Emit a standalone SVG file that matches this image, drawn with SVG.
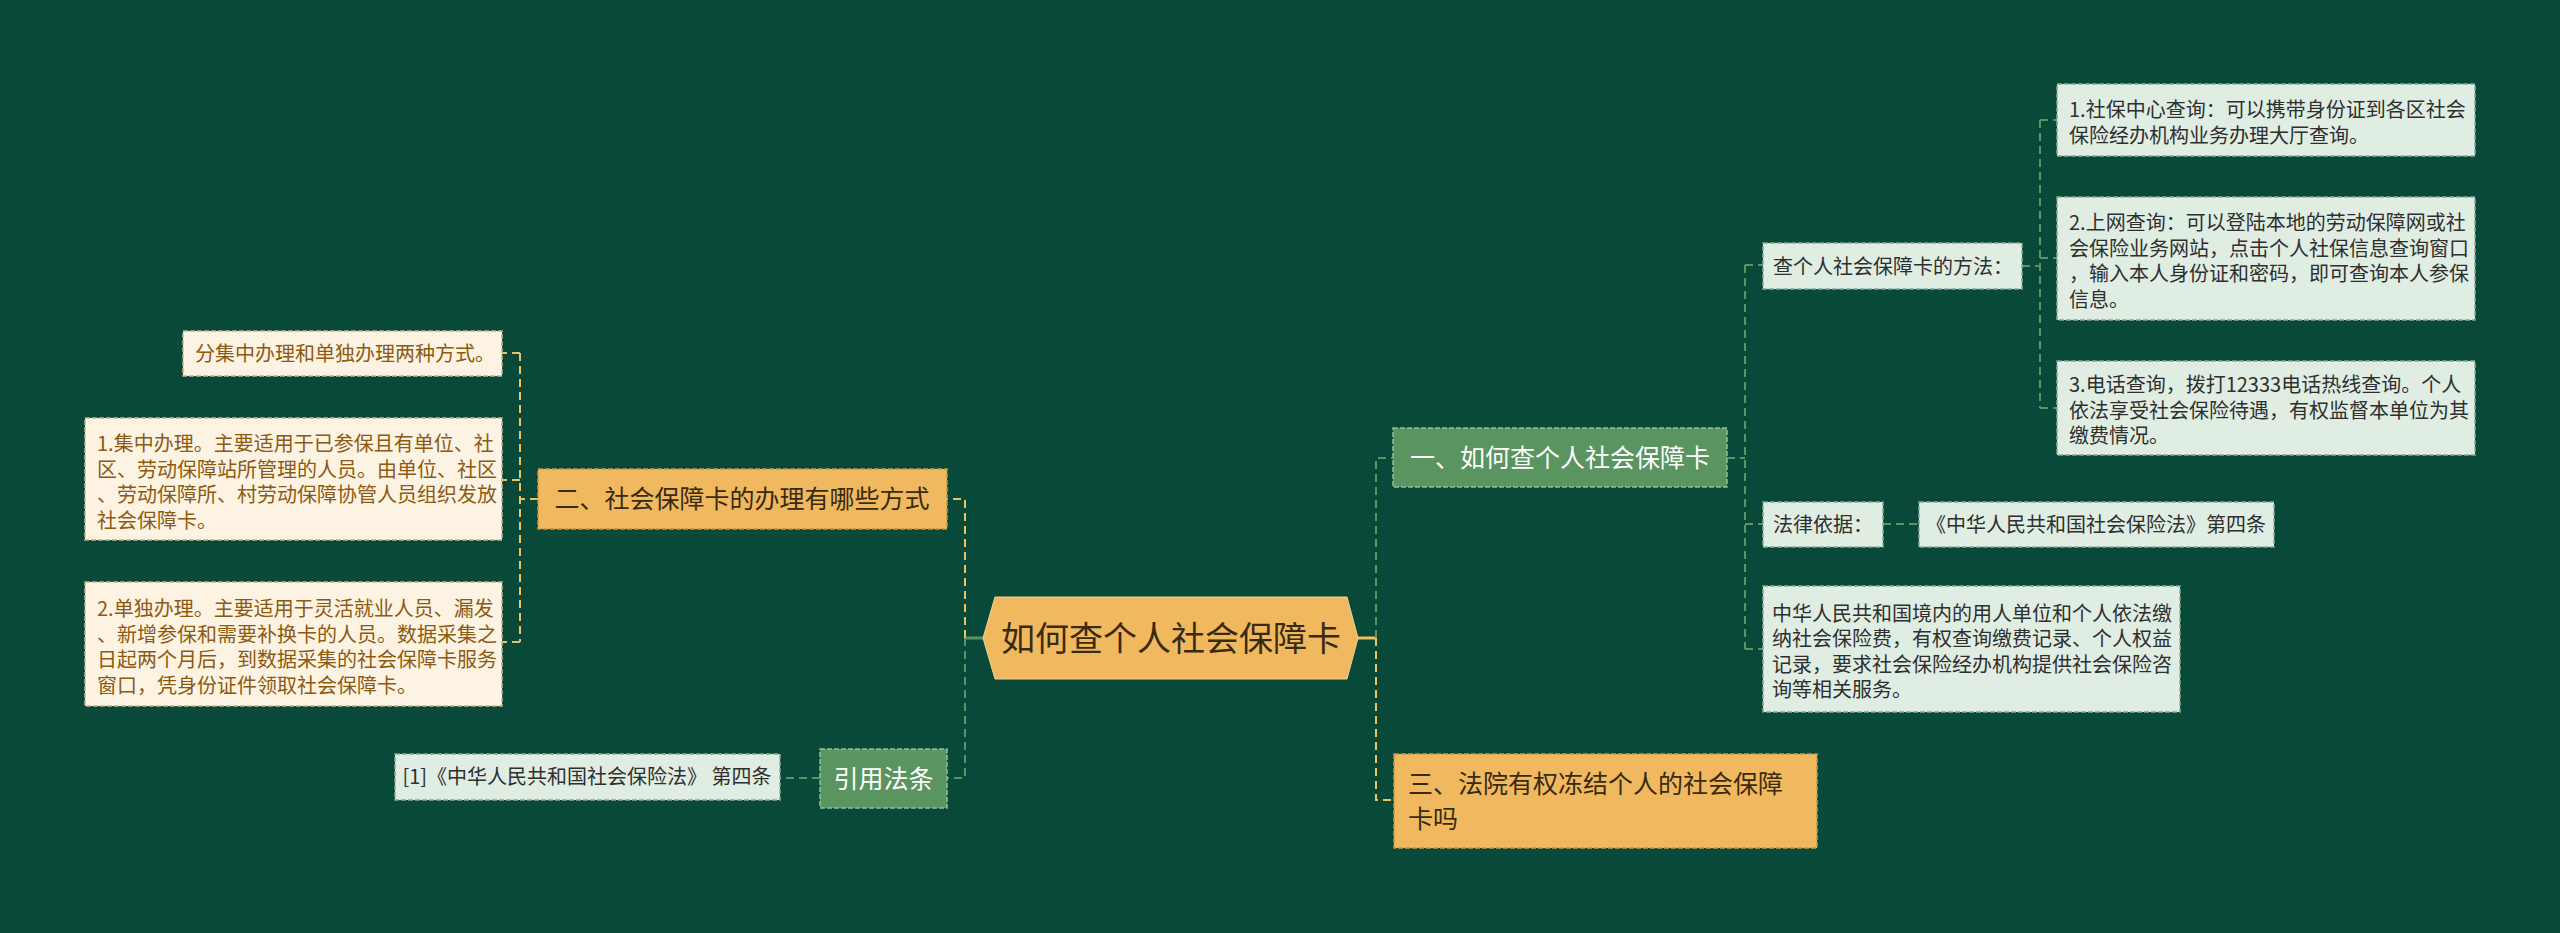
<svg xmlns="http://www.w3.org/2000/svg" width="2560" height="933" viewBox="0 0 2560 933">
<style>
text { font-family: "Noto Sans CJK SC", "Noto Sans", sans-serif; }
.s { font-size: 20px; }
.m { font-size: 25px; }
.dk { fill: #2f2f2f; }
.br { fill: #8c5a12; }
.wh { fill: #ffffff; }
.yt { fill: #3a2a10; }
.mint { fill: #dfede2; stroke: #8aa996; stroke-width: 1.5; stroke-dasharray: 5 2; }
.cream { fill: #fdf3e2; stroke: #c4b28c; stroke-width: 1.5; stroke-dasharray: 5 2; }
.yel { fill: #f0b95f; stroke: #c9963f; stroke-width: 1.5; stroke-dasharray: 5 2; }
.grn { fill: #5a9460; stroke: #8fc095; stroke-width: 1.5; stroke-dasharray: 5 2; }
.cg { fill: none; stroke: #5a9460; stroke-width: 2; stroke-dasharray: 8 5; }
.cy { fill: none; stroke: #f0c060; stroke-width: 2; stroke-dasharray: 8 5; }
.sg { fill: none; stroke: #5a9460; stroke-width: 3; }
.sy { fill: none; stroke: #f0c060; stroke-width: 3; }
</style>
<rect x="0" y="0" width="2560" height="933" fill="#08493a"/>

<g id="connectors">
  <path class="sg" d="M983,638 H965"/>
  <path class="cy" d="M965,638 V499 H947"/>
  <path class="cg" d="M965,638 V778 H947"/>
  <path class="sy" d="M1358,638 H1376"/>
  <path class="cg" d="M1376,638 V458 H1393"/>
  <path class="cy" d="M1376,638 V800 H1394"/>
  <path class="cy" d="M538,499 H520 M520,353 V642 M520,353 H502 M520,480 H502 M520,642 H502"/>
  <path class="cg" d="M820,778 H780"/>
  <path class="cg" d="M1727,458 H1745 M1745,265 V649 M1745,265 H1763 M1745,524 H1763 M1745,649 H1763"/>
  <path class="cg" d="M2022,266 H2040 M2040,120 V408 M2040,120 H2057 M2040,258 H2057 M2040,408 H2057"/>
  <path class="cg" d="M1883,524 H1919"/>
</g>

<g id="root">
  <polygon points="983,638 995,597 1347,597 1358,638 1347,679 995,679" fill="#f0b95f" stroke="#f6d38f" stroke-width="1"/>
  <text x="1171" y="651" font-size="34" text-anchor="middle" class="yt">如何查个人社会保障卡</text>
</g>

<g id="n1">
  <rect class="grn" x="1393" y="428" width="334" height="59"/>
  <text class="m wh" x="1560" y="467" text-anchor="middle">一、如何查个人社会保障卡</text>
</g>

<g id="n1a">
  <rect class="mint" x="1763" y="243" width="259" height="46"/>
  <text class="s dk" x="1773" y="274">查个人社会保障卡的方法：</text>
</g>

<g id="n1a1">
  <rect class="mint" x="2057" y="84" width="418" height="72"/>
  <text class="s dk" x="2069" y="117">1.社保中心查询：可以携带身份证到各区社会</text>
  <text class="s dk" x="2069" y="143">保险经办机构业务办理大厅查询。</text>
</g>

<g id="n1a2">
  <rect class="mint" x="2057" y="197" width="418" height="123"/>
  <text class="s dk" x="2069" y="230">2.上网查询：可以登陆本地的劳动保障网或社</text>
  <text class="s dk" x="2069" y="256">会保险业务网站，点击个人社保信息查询窗口</text>
  <text class="s dk" x="2069" y="281">，输入本人身份证和密码，即可查询本人参保</text>
  <text class="s dk" x="2069" y="307">信息。</text>
</g>

<g id="n1a3">
  <rect class="mint" x="2057" y="361" width="418" height="94"/>
  <text class="s dk" x="2069" y="392">3.电话查询，拨打12333电话热线查询。个人</text>
  <text class="s dk" x="2069" y="418">依法享受社会保险待遇，有权监督本单位为其</text>
  <text class="s dk" x="2069" y="443">缴费情况。</text>
</g>

<g id="n1b">
  <rect class="mint" x="1763" y="502" width="120" height="45"/>
  <text class="s dk" x="1773" y="532">法律依据：</text>
</g>

<g id="n1b1">
  <rect class="mint" x="1919" y="502" width="355" height="45"/>
  <text class="s dk" x="2096" y="532" text-anchor="middle">《中华人民共和国社会保险法》第四条</text>
</g>

<g id="n1c">
  <rect class="mint" x="1763" y="586" width="417" height="126"/>
  <text class="s dk" x="1772" y="621">中华人民共和国境内的用人单位和个人依法缴</text>
  <text class="s dk" x="1772" y="646">纳社会保险费，有权查询缴费记录、个人权益</text>
  <text class="s dk" x="1772" y="672">记录，要求社会保险经办机构提供社会保险咨</text>
  <text class="s dk" x="1772" y="697">询等相关服务。</text>
</g>

<g id="n3">
  <rect class="yel" x="1394" y="754" width="423" height="94"/>
  <text class="m yt" x="1408" y="793">三、法院有权冻结个人的社会保障</text>
  <text class="m yt" x="1408" y="828">卡吗</text>
</g>

<g id="n2">
  <rect class="yel" x="538" y="469" width="409" height="60"/>
  <text class="m yt" x="742" y="508" text-anchor="middle">二、社会保障卡的办理有哪些方式</text>
</g>

<g id="n2a">
  <rect class="cream" x="183" y="331" width="319" height="45"/>
  <text class="s br" x="195" y="361">分集中办理和单独办理两种方式。</text>
</g>

<g id="n2b">
  <rect class="cream" x="85" y="418" width="417" height="122"/>
  <text class="s br" x="97" y="451">1.集中办理。主要适用于已参保且有单位、社</text>
  <text class="s br" x="97" y="477">区、劳动保障站所管理的人员。由单位、社区</text>
  <text class="s br" x="97" y="502">、劳动保障所、村劳动保障协管人员组织发放</text>
  <text class="s br" x="97" y="528">社会保障卡。</text>
</g>

<g id="n2c">
  <rect class="cream" x="85" y="582" width="417" height="124"/>
  <text class="s br" x="97" y="616">2.单独办理。主要适用于灵活就业人员、漏发</text>
  <text class="s br" x="97" y="642">、新增参保和需要补换卡的人员。数据采集之</text>
  <text class="s br" x="97" y="667">日起两个月后，到数据采集的社会保障卡服务</text>
  <text class="s br" x="97" y="693">窗口，凭身份证件领取社会保障卡。</text>
</g>

<g id="n4">
  <rect class="grn" x="820" y="749" width="127" height="59"/>
  <text class="m wh" x="883.5" y="788" text-anchor="middle">引用法条</text>
</g>

<g id="n4a">
  <rect class="mint" x="395" y="754" width="385" height="46"/>
  <text class="s dk" x="587" y="784" text-anchor="middle">[1]《中华人民共和国社会保险法》 第四条</text>
</g>
</svg>
